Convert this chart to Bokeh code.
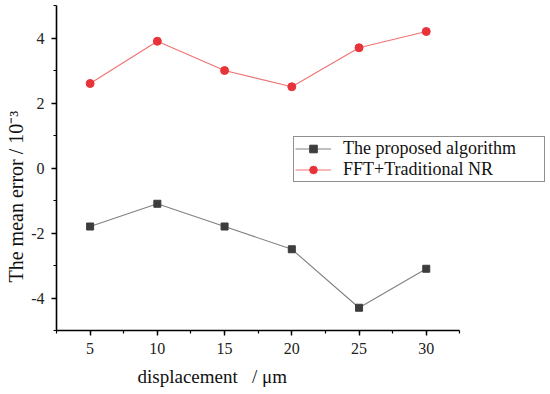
from bokeh.plotting import figure
from bokeh.models import (Range1d, SingleIntervalTicker, Legend, LegendItem, Title,
                          CustomJSTickFormatter)
from bokeh.embed import file_html
from bokeh.resources import INLINE

displacement = [5, 10, 15, 20, 25, 30]
proposed = [-1.8, -1.1, -1.8, -2.5, -4.3, -3.1]
fft_nr = [2.6, 3.9, 3.0, 2.5, 3.7, 4.2]
series_names = ["The proposed algorithm", "FFT+Traditional NR"]
x_label = "displacement\u00a0\u00a0\u00a0/\u00a0\u03bcm"
y_label = "The mean error\u00a0/\u00a010\u207b\u00b3"
x_axis_span = (2.5, 32.5)

FONT = "Liberation Serif"

p = figure(width=550, height=394, output_backend="svg", toolbar_location=None,
           x_range=Range1d(2.5, 39.24), y_range=Range1d(-5.0, 5.0),
           min_border_left=54, min_border_right=0, min_border_top=5,
           min_border_bottom=64)
p.outline_line_color = None
p.grid.grid_line_color = None
p.background_fill_color = "white"
p.border_fill_color = "white"

p.xaxis.ticker = SingleIntervalTicker(interval=5, num_minor_ticks=2)
p.yaxis.ticker = SingleIntervalTicker(interval=2, num_minor_ticks=2)
p.xaxis.bounds = x_axis_span
fmt = CustomJSTickFormatter(code="return String(tick);")
for ax in (p.xaxis[0], p.yaxis[0]):
    ax.formatter = fmt
    ax.axis_line_color = "black"
    ax.axis_line_width = 1.6
    ax.major_tick_line_color = "black"
    ax.minor_tick_line_color = "black"
    ax.major_tick_line_width = 1.4
    ax.minor_tick_line_width = 1.2
    ax.major_tick_out = 5
    ax.major_tick_in = 0
    ax.minor_tick_out = 3
    ax.minor_tick_in = 0
    ax.major_label_text_font = FONT
    ax.major_label_text_font_size = "16px"
    ax.major_label_text_color = "#222222"
p.xaxis.major_label_standoff = 7
p.yaxis.major_label_standoff = 7

l1 = p.line(displacement, proposed, line_color="#808080", line_width=1.1)
s1 = p.scatter(displacement, proposed, marker="square", size=7,
               fill_color="#3d3d3d", line_color="#3d3d3d")
l2 = p.line(displacement, fft_nr, line_color="#f07272", line_width=1.1)
s2 = p.scatter(displacement, fft_nr, marker="circle", size=8,
               fill_color="#e8333a", line_color="#e8333a")

legend = Legend(items=[LegendItem(label=series_names[0], renderers=[l1, s1]),
                       LegendItem(label=series_names[1], renderers=[l2, s2])],
                location=(237, 148))
legend.border_line_color = "#222222"
legend.border_line_width = 1
legend.background_fill_color = "white"
legend.background_fill_alpha = 1.0
legend.label_text_font = FONT
legend.label_text_font_size = "18px"
legend.label_text_color = "#111111"
legend.glyph_width = 36
legend.glyph_height = 19
legend.label_height = 19
legend.label_width = 200
legend.label_standoff = 12
legend.padding = 1
legend.spacing = 0
legend.margin = 0
p.add_layout(legend, "center")

xt = Title(text=x_label, align="left", offset=81, standoff=14,
           text_font=FONT, text_font_size="19px", text_font_style="normal",
           text_color="#111111")
yt = Title(text=y_label, align="left", offset=48, standoff=4,
           text_font=FONT, text_font_size="20px", text_font_style="normal",
           text_color="#111111")
p.add_layout(xt, "below")
p.add_layout(yt, "left")

open("out.html", "w").write(file_html(p, INLINE))
